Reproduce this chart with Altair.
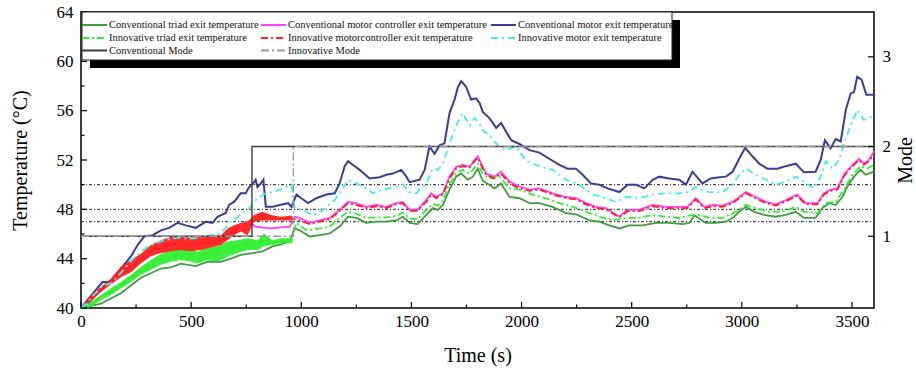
import altair as alt
import pandas as pd

# ---------------- data ----------------
TIME_TICKS = [0, 500, 1000, 1500, 2000, 2500, 3000, 3500]
TIME_MINOR = [250, 750, 1250, 1750, 2250, 2750, 3250]
TEMP_TICKS = [40, 44, 48, 52, 56, 60, 64]
TEMP_MINOR = [42, 46, 50, 54, 58, 62]
MODE_TICKS = [1, 2, 3]
REF_TEMPS = [47, 48, 50]

# Conventional triad exit temperature (t [s], T [degC])
CT = [(0,40),(90,40.35),(181,41.2),(272,42.45),(363,43.2),(408,43.3),(453,43.6),(521,43.4),(574,43.75),(635,43.75),
      (680,44.0),(725,44.3),(778,44.45),(824,44.6),(869,45.0),(907,45.15),(948,45.4),(970,46.45),(993,46.3),(1038,45.8),
      (1084,45.9),(1129,46.05),(1174,46.6),(1212,47.4),(1250,47.3),(1295,46.9),(1341,47.0),(1386,47.0),(1431,47.1),(1461,47.4),
      (1492,46.9),(1529,46.8),(1567,47.55),(1597,48.1),(1620,47.95),(1643,48.35),(1673,49.6),(1703,50.65),(1726,50.9),(1756,50.4),
      (1779,50.65),(1801,51.3),(1824,50.3),(1854,50.0),(1877,49.7),(1907,50.1),(1945,49.0),(1990,48.9),(2036,48.5),(2081,48.5),
      (2141,48.2),(2202,47.7),(2247,47.6),(2308,47.1),(2353,47.0),(2398,46.7),(2444,46.45),(2489,46.7),(2549,46.7),(2610,46.9),
      (2670,46.9),(2731,46.8),(2761,46.9),(2786,47.5),(2836,46.9),(2882,46.9),(2928,47.0),(2965,47.4),(2988,47.8),(3018,48.2),
      (3056,47.8),(3101,47.55),(3154,47.4),(3199,47.55),(3245,47.8),(3282,47.3),(3335,47.3),(3366,48.1),(3396,48.5),(3426,48.35),
      (3456,49.0),(3479,49.85),(3509,50.65),(3539,51.2),(3562,50.8),(3600,51.05)]

# Innovative triad exit temperature
IT = [(0,40),(45,40.3),(90,40.85),(136,41.3),(181,41.85),(227,42.4),(272,43.0),(317,43.5),(363,43.95),(408,44.2),
      (453,44.35),(499,44.3),(529,44.1),(574,44.45),(620,44.4),(665,44.8),(710,45.0),(756,45.2),(801,45.1),(831,45.5),
      (869,45.3),(907,45.45),(955,45.45),(978,46.9),(1023,46.3),(1084,46.45),(1129,46.6),(1174,47.3),(1212,47.8),(1250,47.65),
      (1295,47.3),(1341,47.35),(1386,47.35),(1431,47.45),(1461,47.75),(1492,47.25),(1529,47.2),(1567,47.95),(1597,48.45),(1620,48.3),
      (1643,48.7),(1673,50.1),(1703,50.9),(1733,51.2),(1764,50.9),(1801,51.7),(1824,50.9),(1854,50.5),(1900,50.65),(1945,49.7),
      (1990,49.6),(2051,49.2),(2111,48.9),(2172,48.5),(2232,48.2),(2293,47.8),(2353,47.4),(2413,47.1),(2474,47.3),(2534,47.3),
      (2595,47.55),(2655,47.4),(2716,47.3),(2761,47.5),(2806,47.55),(2852,47.3),(2912,47.3),(2973,47.8),(3018,48.35),(3063,48.1),
      (3124,47.8),(3184,47.8),(3245,48.2),(3282,47.8),(3343,47.7),(3381,48.5),(3426,48.6),(3464,49.6),(3502,50.8),(3539,51.5),
      (3570,51.3),(3600,51.6)]
# fluctuation envelope of the innovative triad temperature (t, low, high)
IT_BAND = [(30,40.0,40.4),(45,40.1,40.5),(90,40.65,41.05),(136,41.05,41.6),(181,41.6,42.1),(227,42.1,42.7),(272,42.7,43.35),
           (317,43.1,43.9),(363,43.5,44.4),(408,43.75,44.7),(453,43.9,44.85),(499,43.75,44.85),(529,43.6,44.55),(574,43.9,45.0),
           (620,43.75,45.0),(665,44.15,45.4),(710,44.45,45.5),(756,44.7,45.65),(801,44.7,45.5),(831,45.0,46.05),(869,45.1,45.5),
           (907,45.25,45.65),(960,45.25,45.65)]

# Conventional motor controller exit temperature
CMC = [(0,40),(45,40.7),(90,41.4),(136,42.1),(181,42.8),(227,43.3),(272,43.9),(317,44.6),(363,44.9),(408,45.1),
       (453,45.2),(499,45.1),(544,45.2),(589,45.3),(635,45.4),(665,45.8),(695,46.2),(725,46.5),(748,47.0),(765,47.0),
       (790,46.6),(857,46.45),(948,46.6),(970,47.4),(993,47.3),(1038,46.9),(1084,47.1),(1129,47.3),(1174,47.95),(1212,48.6),
       (1250,48.5),(1295,48.2),(1341,48.35),(1386,48.2),(1431,48.5),(1461,48.6),(1492,47.95),(1529,48.0),(1567,48.75),(1590,49.3),
       (1612,49.0),(1643,49.3),(1673,50.65),(1703,51.45),(1733,51.6),(1764,51.45),(1801,52.3),(1824,51.45),(1839,50.9),(1877,50.65),
       (1907,51.05),(1945,50.25),(1990,49.85),(2036,49.6),(2081,49.7),(2141,49.3),(2202,49.0),(2247,48.9),(2293,48.5),(2338,48.2),
       (2383,48.1),(2444,47.4),(2481,47.95),(2534,47.95),(2595,48.35),(2655,48.2),(2716,48.2),(2753,48.2),(2791,48.9),(2829,48.2),
       (2867,48.35),(2912,48.3),(2958,48.6),(2988,49.0),(3018,49.4),(3063,49.0),(3109,48.6),(3154,48.4),(3199,48.75),(3252,49.2),
       (3290,48.5),(3343,48.5),(3373,49.3),(3403,49.6),(3434,49.7),(3464,50.8),(3494,51.45),(3532,52.1),(3554,51.7),(3577,52.0),
       (3600,52.7)]

# Innovative motorcontroller exit temperature
IMC = [(0,40),(45,40.8),(90,41.5),(136,42.15),(181,42.9),(227,43.4),(272,44.0),(317,44.65),(363,45.0),(408,45.2),
       (453,45.25),(499,45.15),(544,45.25),(589,45.35),(635,45.5),(665,46.0),(695,46.3),(725,46.55),(756,46.5),(786,47.3),
       (824,47.45),(862,47.3),(907,47.25),(955,47.3),(970,47.2),(993,47.1),(1038,46.8),(1084,47.0),(1129,47.2),(1174,47.85),
       (1212,48.5),(1250,48.35),(1295,48.1),(1341,48.25),(1386,48.1),(1431,48.4),(1461,48.5),(1492,47.85),(1529,47.9),(1567,48.6),
       (1590,49.2),(1612,48.9),(1643,49.2),(1673,50.5),(1703,51.3),(1733,51.5),(1764,51.4),(1801,52.2),(1824,51.3),(1839,50.8),
       (1877,50.5),(1907,50.9),(1945,50.1),(1990,49.7),(2036,49.5),(2081,49.6),(2141,49.2),(2202,48.9),(2247,48.8),(2293,48.4),
       (2338,48.1),(2383,48.0),(2444,47.35),(2481,47.85),(2534,47.85),(2595,48.25),(2655,48.1),(2716,48.1),(2753,48.1),(2791,48.8),
       (2829,48.1),(2867,48.25),(2912,48.2),(2958,48.5),(2988,48.9),(3018,49.3),(3063,48.9),(3109,48.5),(3154,48.3),(3199,48.65),
       (3252,49.1),(3290,48.4),(3343,48.4),(3373,49.2),(3403,49.5),(3434,49.6),(3464,50.7),(3494,51.35),(3532,52.0),(3554,51.6),
       (3577,51.9),(3600,52.5)]
IMC_BAND = [(30,40.3,40.8),(45,40.5,41.05),(90,41.3,41.7),(136,41.9,42.4),(181,42.5,43.35),(227,42.9,43.9),(272,43.6,44.4),
            (317,44.2,45.1),(363,44.45,45.5),(408,44.6,45.75),(453,44.7,45.8),(499,44.6,45.7),(544,44.7,45.8),(589,44.9,45.8),
            (635,45.1,45.9),(665,45.5,46.45),(695,45.9,46.7),(725,46.2,46.9),(756,45.9,47.0),(786,47.0,47.55),(824,47.1,47.8),
            (862,47.1,47.55),(907,47.1,47.4),(960,47.1,47.5)]

# Conventional motor exit temperature
CM = [(0,40),(30,40.65),(60,41.3),(98,42.1),(136,42.1),(159,42.7),(189,43.35),(227,44.2),(257,45.1),(287,45.8),
      (325,45.9),(363,46.3),(400,46.5),(438,46.9),(476,46.7),(521,46.5),(567,47.0),(597,46.9),(620,47.4),(657,47.7),
      (672,48.35),(695,48.6),(725,49.3),(748,49.3),(763,49.8),(778,50.0),(793,50.4),(801,49.8),(816,50.1),(828,50.4),
      (839,48.2),(869,48.2),(902,48.35),(940,48.5),(955,48.2),(978,49.2),(1000,48.9),(1031,48.5),(1068,48.9),(1114,49.2),
      (1152,49.3),(1174,50.1),(1197,51.5),(1212,51.9),(1235,51.6),(1265,51.2),(1310,50.5),(1356,50.6),(1386,50.8),(1416,50.9),
      (1454,51.2),(1477,50.65),(1492,50.2),(1537,50.4),(1560,51.2),(1582,53.1),(1605,52.5),(1628,53.2),(1650,53.35),(1673,55.8),
      (1696,56.9),(1711,57.9),(1726,58.4),(1749,57.9),(1771,56.9),(1794,57.0),(1810,56.6),(1824,55.9),(1854,55.4),(1885,54.6),
      (1907,55.0),(1930,54.3),(1953,53.6),(1990,53.3),(2036,52.8),(2081,52.6),(2126,52.1),(2172,51.6),(2209,51.3),(2247,51.3),
      (2277,50.8),(2315,50.1),(2353,50.0),(2391,49.7),(2444,49.4),(2481,50.0),(2519,50.0),(2557,49.7),(2595,50.4),(2625,50.65),
      (2670,50.5),(2716,50.4),(2746,50.0),(2776,51.05),(2821,50.1),(2859,50.5),(2897,50.6),(2928,50.65),(2958,51.05),(2988,52.1),
      (3015,53.0),(3048,52.3),(3079,51.7),(3116,51.3),(3162,51.3),(3199,51.5),(3245,51.7),(3282,51.0),(3335,51.05),(3358,52.0),
      (3377,53.6),(3403,52.95),(3426,53.7),(3449,53.5),(3472,56.05),(3494,57.4),(3509,57.5),(3524,58.75),(3544,58.5),(3565,57.3),
      (3600,57.3)]

# Innovative motor exit temperature
IM = [(0,40),(30,40.5),(60,41.1),(98,41.8),(136,42.0),(189,43.0),(227,43.8),(272,44.6),(317,45.1),(378,45.5),
      (440,45.7),(500,45.6),(560,45.8),(635,46.05),(680,47.0),(756,47.95),(801,48.9),(839,49.3),(876,49.4),(917,49.7),
      (955,50.0),(970,48.1),(1008,47.95),(1053,47.5),(1099,47.95),(1152,48.75),(1189,49.7),(1212,50.4),(1250,50.1),(1295,49.7),
      (1325,49.3),(1371,49.6),(1431,49.8),(1461,50.0),(1492,49.4),(1522,49.3),(1567,50.1),(1597,51.3),(1620,51.2),(1643,51.7),
      (1673,53.35),(1703,54.8),(1733,55.8),(1764,54.8),(1786,55.4),(1809,55.0),(1824,54.4),(1854,54.0),(1892,53.2),(1930,52.8),
      (1975,53.1),(2021,51.9),(2081,51.5),(2141,51.2),(2202,50.4),(2262,50.0),(2323,49.2),(2383,48.9),(2429,48.6),(2474,49.0),
      (2534,48.9),(2595,49.2),(2655,49.3),(2716,49.3),(2753,49.4),(2791,49.8),(2806,49.6),(2852,49.4),(2912,49.4),(2958,50.0),
      (2988,50.8),(3018,51.3),(3063,50.8),(3109,50.4),(3154,50.0),(3199,50.25),(3245,50.65),(3282,50.25),(3328,49.7),(3358,50.65),
      (3381,51.9),(3411,51.3),(3441,52.0),(3464,53.35),(3494,54.8),(3524,56.05),(3554,55.25),(3600,55.6)]

# Operating modes (t, mode), stepwise
CONV_MODE = [(0, 1), (776, 2), (3600, 2)]
INNOV_MODE = [(0, 1), (964, 2), (3600, 2)]

LEGEND_ROWS = [
    [("Conventional triad exit temperature", "ct"),
     ("Conventional motor controller exit temperature", "cmc"),
     ("Conventional motor exit temperature", "cm")],
    [("Innovative triad exit temperature", "it"),
     ("Innovative motorcontroller exit temperature", "imc"),
     ("Innovative motor exit temperature", "im")],
    [("Conventional Mode", "cmode"),
     ("Innovative Mode", "imode")],
]

# ---------------- styling / layout ----------------
STYLE = {
    "ct": ("#3f9c3f", None),
    "cmc": ("#ff40ff", None),
    "cm": ("#3c3c9a", None),
    "it": ("#30ee30", [7, 3, 2, 3]),
    "imc": ("#ff2020", [7, 3, 2, 3]),
    "im": ("#40eeee", [7, 4, 2, 4]),
    "cmode": ("#404040", None),
    "imode": ("#999999", [8, 3, 2, 3]),
}
W, H = 793, 296
FONT = "Liberation Serif"

xs = alt.Scale(domain=[0, 3600], nice=False, zero=False)
ys = alt.Scale(domain=[40, 64], nice=False, zero=False)
ms = alt.Scale(domain=[0.2, 3.5], nice=False, zero=False)

common = dict(grid=False, domain=False, ticks=False, labelFont=FONT, labelFontSize=17,
              labelColor="#000", titleFont=FONT, titleFontSize=20, titleFontWeight="normal",
              titleColor="#000", titleBaseline="middle", titleAlign="center", format="d")
x_axis = alt.Axis(values=TIME_TICKS, title="Time (s)", labelPadding=5, labelFlush=False,
                  titleX=W / 2, titleY=47, **common)
y_axis = alt.Axis(values=TEMP_TICKS, title="Temperature (°C)", orient="left", labelPadding=8,
                  titleX=-61, titleY=H / 2, titleAngle=270, **common)
m_axis = alt.Axis(values=MODE_TICKS, title="Mode", orient="right", labelPadding=8,
                  titleX=31, titleY=H / 2, titleAngle=270, **common)


def X():
    return alt.X("t:Q", scale=xs, axis=x_axis)


def curve(pairs, key, width=1.8):
    color, dash = STYLE[key]
    props = dict(color=color, strokeWidth=width)
    if dash:
        props["strokeDash"] = dash
    df = pd.DataFrame(pairs, columns=["t", "v"])
    return alt.Chart(df).mark_line(**props).encode(x=X(), y=alt.Y("v:Q", scale=ys, axis=y_axis))


def band(rows, key):
    color, _ = STYLE[key]
    df = pd.DataFrame(rows, columns=["t", "lo", "hi"])
    return alt.Chart(df).mark_area(color=color, opacity=0.95).encode(
        x=X(), y=alt.Y("lo:Q", scale=ys, axis=y_axis), y2="hi:Q")


def mode_line(pairs, key):
    color, dash = STYLE[key]
    props = dict(color=color, strokeWidth=1.4, interpolate="step-after")
    if dash:
        props["strokeDash"] = dash
    df = pd.DataFrame(pairs, columns=["t", "m"])
    return alt.Chart(df).mark_line(**props).encode(x=X(), y=alt.Y("m:Q", scale=ms, axis=m_axis))


def yticks(vals, length, scale, axis, right=False):
    df = pd.DataFrame({"v": vals})
    if right:
        xe = dict(x=alt.value(W - length), x2=alt.value(W))
    else:
        xe = dict(x=alt.value(0), x2=alt.value(length))
    return alt.Chart(df).mark_rule(color="black", strokeWidth=1.2).encode(
        y=alt.Y("v:Q", scale=scale, axis=axis), **xe)


def xticks(vals, length):
    df = pd.DataFrame({"t": vals})
    return alt.Chart(df).mark_rule(color="black", strokeWidth=1.2).encode(
        x=X(), y=alt.value(H - length), y2=alt.value(H))


ref = alt.Chart(pd.DataFrame({"v": REF_TEMPS})).mark_rule(
    color="#222222", strokeWidth=1, strokeDash=[3, 2, 1, 2]).encode(
    y=alt.Y("v:Q", scale=ys, axis=y_axis), x=alt.value(0), x2=alt.value(W))

temp_group = alt.layer(
    ref,
    curve(CT, "ct"),
    curve(CMC, "cmc"),
    curve(CM, "cm", 2),
    band(IT_BAND, "it"),
    curve(IT, "it"),
    band(IMC_BAND, "imc"),
    curve(IMC, "imc"),
    curve(IM, "im"),
    yticks(TEMP_TICKS, 6, ys, y_axis),
    yticks(TEMP_MINOR, 3.5, ys, y_axis),
    xticks(TIME_TICKS, 6),
    xticks(TIME_MINOR, 3.5),
)

mode_group = alt.layer(
    mode_line(CONV_MODE, "cmode"),
    mode_line(INNOV_MODE, "imode"),
    yticks(MODE_TICKS, 6, ms, m_axis, right=True),
)

# legend (drawn from marks)
one = pd.DataFrame({"a": [0]})
COL_X = [1, 180, 410]
ROW_Y = [13, 26, 38.5]
SYM_LEN = 25
leg_layers = [
    alt.Chart(one).mark_rect(fill="black").encode(
        x=alt.value(9), x2=alt.value(599), y=alt.value(8), y2=alt.value(56)),
    alt.Chart(one).mark_rect(fill="white", stroke="#222", strokeWidth=1).encode(
        x=alt.value(1), x2=alt.value(591), y=alt.value(0), y2=alt.value(48)),
]
for r, row in enumerate(LEGEND_ROWS):
    for c, (label, key) in enumerate(row):
        color, dash = STYLE[key]
        props = dict(color=color, strokeWidth=2)
        if dash:
            props["strokeDash"] = dash
        x0 = COL_X[c]
        y0 = ROW_Y[r]
        leg_layers.append(alt.Chart(one).mark_rule(**props).encode(
            x=alt.value(x0), x2=alt.value(x0 + SYM_LEN), y=alt.value(y0)))
        leg_layers.append(alt.Chart(one).mark_text(
            text=label, align="left", baseline="middle", font=FONT, fontSize=10.5, color="#111").encode(
            x=alt.value(x0 + SYM_LEN + 2), y=alt.value(y0)))
legend_group = alt.layer(*leg_layers)

chart = alt.layer(temp_group, mode_group, legend_group).resolve_scale(
    y="independent"
).properties(
    width=W, height=H,
    autosize=alt.AutoSizeParams(type="none"),
    padding={"left": 81, "top": 12, "right": 42, "bottom": 65},
    background="white",
).configure(
    font=FONT
).configure_axis(
    labelFont=FONT, titleFont=FONT, labelFontSize=17, titleFontSize=20,
    titleFontWeight="normal", labelColor="#000", titleColor="#000"
).configure_view(stroke="black", strokeWidth=1.5)

chart.save("out.html", embed_options={"renderer": "svg", "actions": False})
